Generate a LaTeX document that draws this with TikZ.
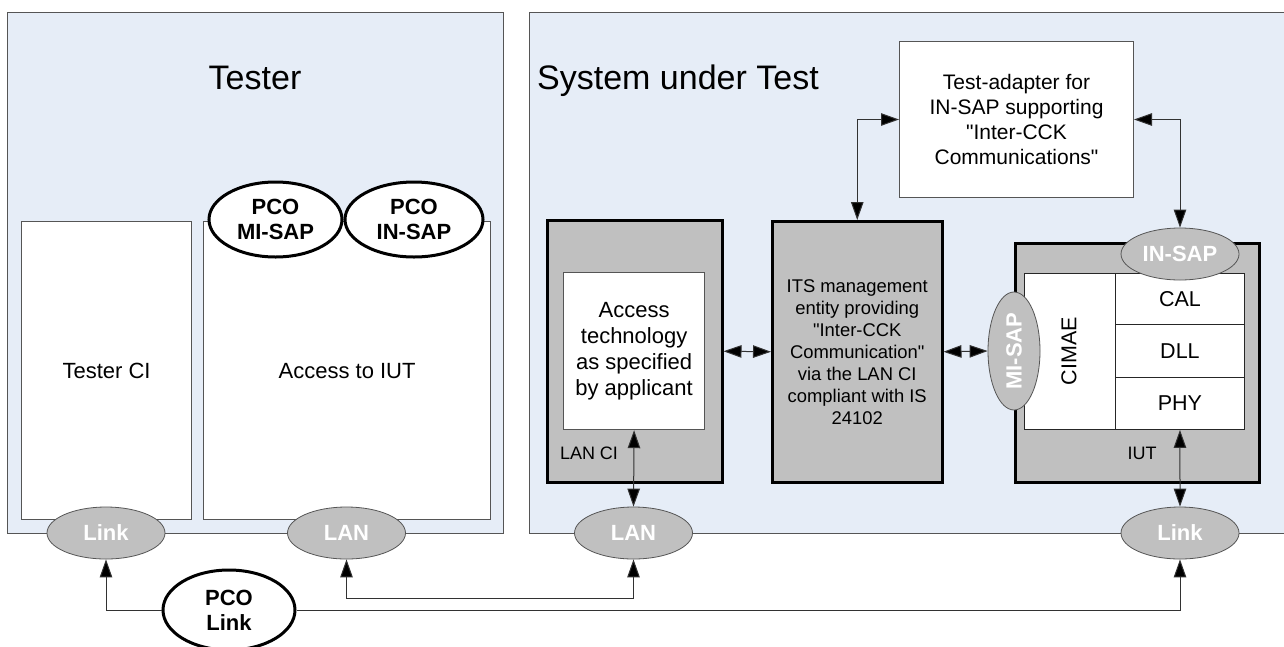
\documentclass[tikz,border=0pt]{standalone}
\usepackage{fontspec}
\setmainfont{Liberation Sans}[Ligatures=TeXOff]
\usetikzlibrary{shapes.geometric,arrows.meta}
\definecolor{bgblue}{RGB}{230,237,247}
\definecolor{boxgray}{RGB}{192,192,192}
\definecolor{edgegray}{RGB}{85,85,85}
\definecolor{linegray}{RGB}{50,50,50}
\tikzset{
  panel/.style={draw=edgegray, line width=1.2pt, fill=bgblue, rectangle, inner sep=0pt, anchor=north west},
  whitebox/.style={draw=edgegray, line width=1.2pt, fill=white, rectangle, inner sep=0pt, anchor=north west},
  cellbox/.style={draw=black!85, line width=0.9pt, fill=white, rectangle, inner sep=0pt, anchor=north west},
  graybox/.style={draw=black, line width=2.5pt, fill=boxgray, rectangle, inner sep=0pt, anchor=north west},
  sap/.style={ellipse, draw=edgegray, line width=0.8pt, fill=boxgray, inner sep=0pt, text=white,
    minimum width=118pt, minimum height=52pt, font=\bfseries\fontsize{22}{24}\selectfont},
  pco/.style={ellipse, draw=black, line width=3pt, fill=white, inner sep=0pt, align=center,
    font=\bfseries\fontsize{22}{25}\selectfont},
  lbl/.style={font=\fontsize{22}{26}\selectfont, inner sep=0pt},
  conn/.style={draw=linegray, line width=1pt},
  tip/.style={-{Triangle[length=18pt,width=12.5pt,fill=black]}},
  dtip/.style={{Triangle[length=18pt,width=12.5pt,fill=black]}-{Triangle[length=18pt,width=12.5pt,fill=black]}}
}
\begin{document}
\begin{tikzpicture}[x=1pt,y=-1pt]
\clip (0,0) rectangle (1284,646);
\fill[white] (0,0) rectangle (1284,646);
% panels
\node[panel, minimum width=496pt, minimum height=521pt] (tester) at (7,12) {};
\node[panel, minimum width=800pt, minimum height=521pt] (sut) at (529,12) {};
\node[anchor=base, font=\fontsize{34}{40}\selectfont, inner sep=0pt] (testertitle) at (255,89) {Tester};
\node[anchor=base west, font=\fontsize{34}{40}\selectfont, inner sep=0pt] (suttitle) at (537,89) {System under Test};
% tester boxes
\node[whitebox, minimum width=170pt, minimum height=298pt, font=\fontsize{22}{26}\selectfont] (tci) at (21,221) {Tester CI};
\node[whitebox, minimum width=287pt, minimum height=298pt, font=\fontsize{22}{26}\selectfont] (aiut) at (203,221) {Access to IUT};
% SUT boxes
\node[graybox, minimum width=175pt, minimum height=262pt] (lanci) at (546,219) {};
\node[whitebox, minimum width=141pt, minimum height=157pt, align=center,
  font=\fontsize{22}{26}\selectfont] (acc) at (563,272) {Access\\technology\\as specified\\by applicant};
\node[lbl, font=\fontsize{18}{22}\selectfont] (lancilbl) at (589,453) {LAN CI};
\node[graybox, minimum width=170pt, minimum height=261pt, align=center,
  font=\fontsize{18.4}{22}\selectfont] (its) at (771,220) {ITS management\\entity providing\\"Inter-CCK\\Communication"\\via the LAN CI\\compliant with IS\\24102};
\node[whitebox, line width=1pt, minimum width=234pt, minimum height=156pt, align=center,
  font=\fontsize{21}{25}\selectfont] (ta) at (899,41) {Test-adapter for\\IN-SAP supporting\\"Inter-CCK\\Communications"};
\node[graybox, minimum width=244pt, minimum height=239pt] (iut) at (1014,242) {};
\node[cellbox, minimum width=91pt, minimum height=156pt] (cimae) at (1024,273) {};
\node[font=\fontsize{21.5}{24}\selectfont, rotate=90, inner sep=0pt] (cimaelbl) at (1069,351) {CIMAE};
\node[cellbox, minimum width=129pt, minimum height=51pt, font=\fontsize{21.5}{24}\selectfont] (cal) at (1115,273) {CAL};
\node[cellbox, minimum width=129pt, minimum height=53pt, font=\fontsize{21.5}{24}\selectfont] (dll) at (1115,324) {DLL};
\node[cellbox, minimum width=129pt, minimum height=52pt, font=\fontsize{21.5}{24}\selectfont] (phy) at (1115,377) {PHY};
\node[lbl, font=\fontsize{18}{22}\selectfont] (iutlbl) at (1142,453) {IUT};
% SAP ellipses
\node[sap] (linkL) at (106,533) {Link};
\node[sap] (lanL) at (346.5,533) {LAN};
\node[sap] (lanR) at (633.5,533) {LAN};
\node[sap] (linkR) at (1180,533) {Link};
\node[sap] (insap) at (1180,254) {IN-SAP};
\node[sap, rotate=90] (misap) at (1014,351) {MI-SAP};
% PCO ellipses
\node[pco, minimum width=133pt, minimum height=75pt] (pcomi) at (275.5,219.5) {PCO\\MI-SAP};
\node[pco, minimum width=138pt, minimum height=75pt] (pcoin) at (414,219.5) {PCO\\IN-SAP};
\node[pco, minimum width=132pt, minimum height=80pt] (pcolink) at (229,610) {PCO\\Link};
% connectors
\coordinate (bus) at (0,598);
\draw[conn, tip] (pcolink.west) -| (linkL.south);
\draw[conn, tip] (pcolink.east) -| (linkR.south);
\draw[conn, dtip] (lanL.south) |- (bus -| lanR.south) -- (lanR.south);
\draw[conn, dtip] (acc.south) -- (lanR.north);
\draw[conn, dtip] (lanci.east) -- (its.west);
\draw[conn, dtip] (its.east) -- (misap.north);
\draw[conn, dtip] (ta.west) -| (its.north);
\draw[conn, dtip] (ta.east) -| (insap.north);
\draw[conn, dtip] (phy.south) -- (linkR.north);
\end{tikzpicture}
\end{document}
